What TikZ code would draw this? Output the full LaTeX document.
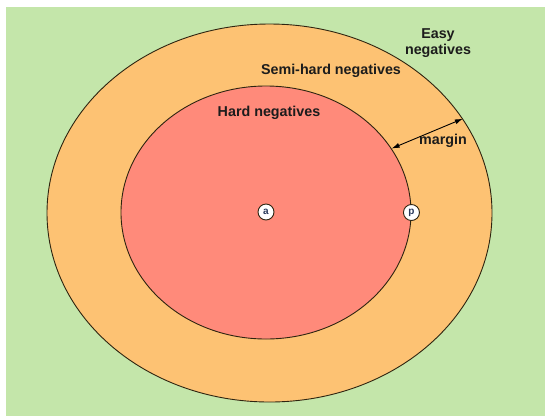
\documentclass[tikz,border=0pt]{standalone}
\usepackage{fontspec}
\setmainfont{Liberation Sans}
\usepackage{tikz}
\usetikzlibrary{shapes, shapes.geometric, arrows.meta, positioning, calc}
\usepackage{xcolor}
\definecolor{easygreen}{HTML}{C4E6AA}
\definecolor{semiorange}{HTML}{FDC273}
\definecolor{hardred}{HTML}{FF8A7A}
\definecolor{rimbrown}{HTML}{2E2410}
\definecolor{labelink}{HTML}{1C1C1C}
\definecolor{pointink}{HTML}{2A3A5C}

\begin{document}
\begin{tikzpicture}[x=1pt, y=-1pt,
    region/.style={draw=rimbrown, line width=0.9pt, ellipse, inner sep=0pt},
    zonelabel/.style={text=labelink, align=center, font=\fontsize{14.3}{16}\selectfont\bfseries},
    sample/.style={draw=rimbrown, line width=0.9pt, fill=white, circle, inner sep=0pt,
                   minimum size=16pt, text=pointink, font=\fontsize{10}{10}\selectfont\bfseries}]
  \useasboundingbox (0,0) rectangle (545,416);
  \fill[white] (0,0) rectangle (545,416);
  \fill[easygreen] (6,7) rectangle (545,416);

  \node[region, fill=semiorange, minimum width=445pt, minimum height=378pt]
        (semihard) at (269.5,213) {};
  \node[region, fill=hardred, minimum width=290pt, minimum height=253pt]
        (hard) at (266,212.5) {};

  \node[sample] (anchor) at (266,212) {a};
  \node[sample] (positive) at (hard.east) {p};

  \node[zonelabel] (easylbl) at (438,43) {Easy\\negatives};
  \node[zonelabel] (semilbl) at (331,71) {Semi-hard negatives};
  \node[zonelabel] (hardlbl) at (269,113) {Hard negatives};
  \node[zonelabel] (marginlbl) at (443,141) {margin};

  \draw[line width=0.9pt, {Latex[length=8pt,width=5pt]}-{Latex[length=8pt,width=5pt]}]
        (hard.27.5) -- (semihard.26);
\end{tikzpicture}
\end{document}
